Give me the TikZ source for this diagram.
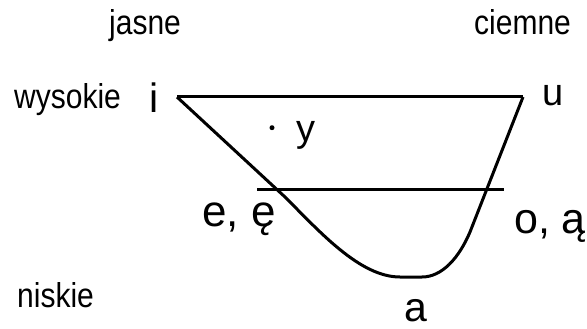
\documentclass[tikz,border=0pt]{standalone}
\usepackage{fontspec}
\setmainfont{Liberation Sans}
\newcommand{\tallbox}[1]{\scalebox{1}[1.15]{#1}}
\begin{document}
\begin{tikzpicture}[x=1pt,y=-1pt,
  lbl/.style={anchor=base west,inner sep=0pt,font=\fontsize{30}{34}\selectfont},
  vow/.style={anchor=base west,inner sep=0pt,font=\fontsize{41}{46}\selectfont},
  ln/.style={line width=3pt,line join=round}]
\useasboundingbox (0,0) rectangle (587,329);
\node[lbl] (jasne) at (109,35) {\tallbox{jasne}};
\node[lbl] (ciemne) at (474,35) {\tallbox{ciemne}};
\node[lbl] (wys) at (14,109) {\tallbox{wysokie}};
\node[lbl] (nis) at (17,307) {\tallbox{niskie}};
\node[vow] (i) at (149,113) {i};
\node[vow,font=\fontsize{38}{44}\selectfont] (u) at (542,106) {u};
\node[vow,font=\fontsize{38}{44}\selectfont] (y) at (296,142) {y};
\node[vow] (a) at (404,321) {a};
\node[vow,font=\fontsize{44}{50}\selectfont] (e) at (202,226) {e, ę};
\node[vow,font=\fontsize{43}{50}\selectfont] (o) at (514,233) {o, ą};
\fill (272,127.7) circle (2.5);
\coordinate (ti) at (177,97);
\coordinate (tu) at (523,97);
\coordinate (ml) at (257,189);
\coordinate (mr) at (504,189);
\draw[ln] (ti) -- (tu);
\draw[ln] (ml) -- (mr);
\draw[ln] (ti) -- (285,197) .. controls (320,232) and (360,277) .. (400,277)
  -- (422,277) .. controls (442,277) and (459,258) .. (470,232) -- (tu);
\end{tikzpicture}
\end{document}
